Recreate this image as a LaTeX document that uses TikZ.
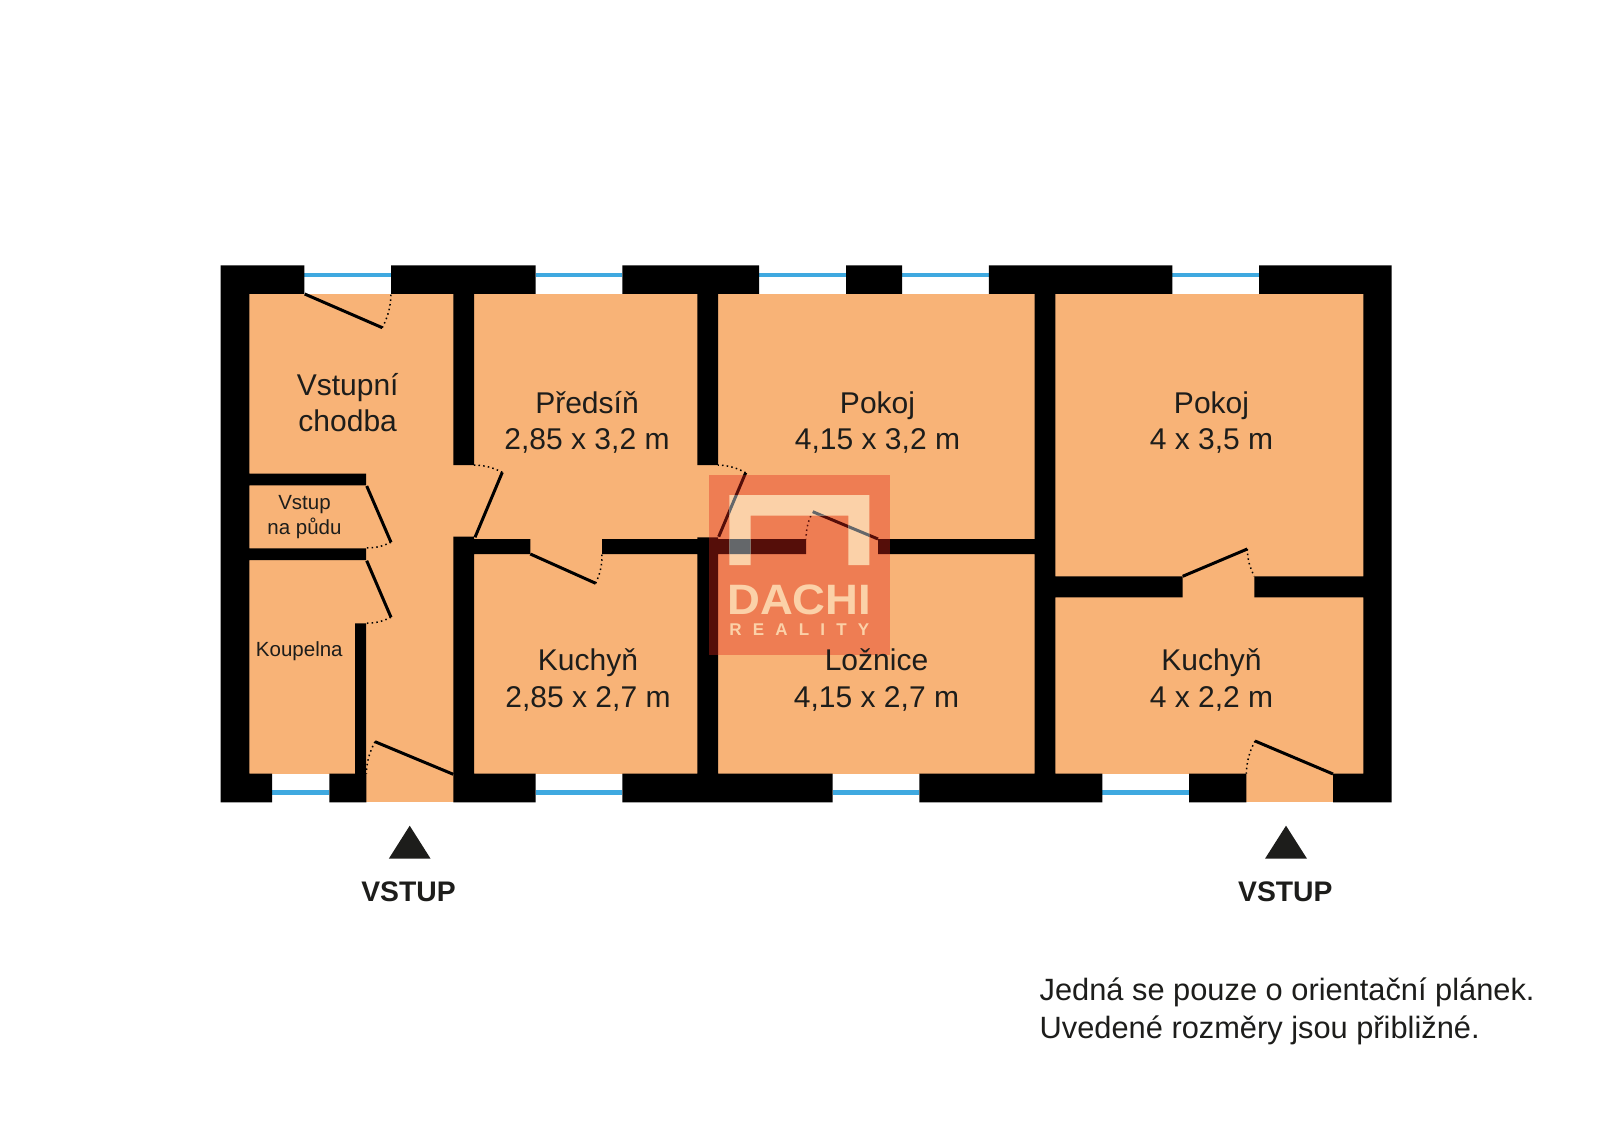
\documentclass[tikz,border=0pt]{standalone}
\usepackage{fontspec}
\setmainfont{Liberation Sans}
\definecolor{floorc}{HTML}{F8B377}
\definecolor{winc}{HTML}{3FA9E0}
\definecolor{inkc}{HTML}{1D1D1B}
\definecolor{stampc}{RGB}{224,39,26}
\definecolor{logoc}{RGB}{251,209,168}
\definecolor{logodark}{RGB}{100,103,106}
\tikzset{
  wall/.style={fill=black},
  window/.style={draw=winc,line width=4.4pt},
  leaf/.style={draw=black,line width=3pt},
  swing/.style={draw=black,line width=1.5pt,dash pattern=on 1.5pt off 3.2pt},
  room/.style={font=\fontsize{30}{36}\selectfont,text=inkc,anchor=base,inner sep=0pt},
  smalllabel/.style={font=\fontsize{20.5}{25}\selectfont,text=inkc,anchor=base,inner sep=0pt},
  entry/.style={font=\bfseries\fontsize{28.3}{32}\selectfont,text=inkc,anchor=base,inner sep=0pt},
  note/.style={font=\fontsize{30.8}{36}\selectfont,text=inkc,anchor=base west,inner sep=0pt},
}
% hinge, tip, jamb, bend side
\newcommand{\doorleaf}[4]{%
  \draw[leaf] #1 -- #2;
  \draw[swing] #2 to[bend #4=12] #3;
}
\newcommand{\wallshapes}{%
  % outer walls
  (220.7,265.3) rectangle (304.4,294)
  (391,265.3) rectangle (535.7,294)
  (622.4,265.3) rectangle (759,294)
  (846,265.3) rectangle (902,294)
  (988.8,265.3) rectangle (1172.4,294)
  (1259,265.3) rectangle (1391.7,294)
  (220.7,265.3) rectangle (249.3,802.3)
  (1363.3,265.3) rectangle (1391.7,802.3)
  (220.7,773.7) rectangle (272,802.3)
  (329.3,773.7) rectangle (366.3,802.3)
  (453.3,773.7) rectangle (535.7,802.3)
  (622.4,773.7) rectangle (832.7,802.3)
  (919.4,773.7) rectangle (1102.3,802.3)
  (1189,773.7) rectangle (1246.3,802.3)
  (1333,773.7) rectangle (1391.7,802.3)
  % inner walls
  (453.3,294) rectangle (474,465)
  (453.3,536.7) rectangle (474,773.7)
  (474,539) rectangle (530.3,554)
  (602,539) rectangle (806,554)
  (878,539) rectangle (1035,554)
  (697.3,294) rectangle (718,465)
  (697.3,537.3) rectangle (718,773.7)
  (1034.7,294) rectangle (1055.3,773.7)
  (1055,576.3) rectangle (1182.7,597.3)
  (1254.3,576.3) rectangle (1363.3,597.3)
  (249,473.7) rectangle (366,485.3)
  (249,548.3) rectangle (366,560)
  (355,623.3) rectangle (366,773.7)
}
\newcommand{\logoshapes}{%
  (729.3,495) -- (869.3,495) -- (869.3,565) -- (848.3,565) -- (848.3,515.7)
  -- (750.7,515.7) -- (750.7,565) -- (729.3,565) -- cycle
}
\begin{document}
\begin{tikzpicture}[x=1pt,y=-1pt]
\useasboundingbox (0,0) rectangle (1600,1131);
\fill[white] (0,0) rectangle (1600,1131);
% floors
\fill[floorc] (249,294) rectangle (1363.5,774);
\fill[floorc] (366,773) rectangle (453.5,802.3);
\fill[floorc] (1246,773) rectangle (1333.2,802.3);
% windows
\draw[window] (304,275) -- (391,275);
\draw[window] (535.7,275) -- (622.4,275);
\draw[window] (759,275) -- (846,275);
\draw[window] (902,275) -- (988.8,275);
\draw[window] (1172.4,275) -- (1259,275);
\draw[window] (272,792.3) -- (329.3,792.3);
\draw[window] (535.7,792.3) -- (622.4,792.3);
\draw[window] (832.7,792.3) -- (919.4,792.3);
\draw[window] (1102.3,792.3) -- (1189,792.3);
% walls
\fill[wall] \wallshapes;
% doors
\doorleaf{(304.7,294)}{(382.3,327.7)}{(391,294)}{right}
\doorleaf{(475,537.3)}{(502.3,472.3)}{(474,465)}{right}
\doorleaf{(366.7,486)}{(391,542.3)}{(366,548)}{left}
\doorleaf{(366.7,560.7)}{(391,617.3)}{(366,623.3)}{left}
\doorleaf{(453.3,774.3)}{(375,741.7)}{(366.3,773.7)}{right}
\doorleaf{(530.3,554)}{(595.7,583.3)}{(602,554)}{right}
\doorleaf{(718.7,536.7)}{(745.7,472.7)}{(718,465)}{right}
\doorleaf{(878,539)}{(812.7,511.7)}{(806,539)}{right}
\doorleaf{(1182.7,576.3)}{(1247.3,549)}{(1254.3,576.3)}{right}
\doorleaf{(1333,774)}{(1255,741)}{(1246.3,773.7)}{right}
% watermark
\fill[stampc,fill opacity=0.38] (709,475) rectangle (890,654.7);
\fill[logoc] \logoshapes;
\begin{scope}
  \clip \logoshapes;
  \fill[logodark] \wallshapes;
  \draw[leaf,draw=logodark] (718.7,536.7) -- (745.7,472.7);
  \draw[leaf,draw=logodark] (878,539) -- (812.7,511.7);
\end{scope}
\node[inner sep=0pt,anchor=base,text=logoc,font=\bfseries\fontsize{42.5}{44}\selectfont] (logoname) at (799.3,614) {\scalebox{1.07}[1]{DACHI}};
\node[inner sep=0pt,anchor=base,text=logoc,font=\bfseries\fontsize{17}{18}\selectfont] (logosub) at (799.3,635) {\hbox to 140pt{R\hfil E\hfil A\hfil L\hfil I\hfil T\hfil Y}};
% room labels
\node[room] (hall1) at (347.7,395) {Vstupní};
\node[room] (hall2) at (347.7,431) {chodba};
\node[smalllabel] (att1) at (304.5,509) {Vstup};
\node[smalllabel] (att2) at (304.5,534) {na půdu};
\node[smalllabel] (bath) at (299.3,656.7) {Koupelna};
\node[room] (pred1) at (587,413.3) {Předsíň};
\node[room] (pred2) at (587,449.3) {2,85 x 3,2 m};
\node[room] (pok1) at (877.5,413.3) {Pokoj};
\node[room] (pok2) at (877.5,449.3) {4,15 x 3,2 m};
\node[room] (pokr1) at (1211.5,413.3) {Pokoj};
\node[room] (pokr2) at (1211.5,449.3) {4 x 3,5 m};
\node[room] (kuch1) at (588,670) {Kuchyň};
\node[room] (kuch2) at (588,707) {2,85 x 2,7 m};
\node[room] (loz1) at (876.5,670) {Ložnice};
\node[room] (loz2) at (876.5,707) {4,15 x 2,7 m};
\node[room] (kuchr1) at (1211.5,670) {Kuchyň};
\node[room] (kuchr2) at (1211.5,707) {4 x 2,2 m};
% entries
\fill[inkc] (409.7,825.7) -- (430.6,858.7) -- (388.8,858.7) -- cycle;
\fill[inkc] (1286,825.7) -- (1307,858.7) -- (1265,858.7) -- cycle;
\node[entry] (in1) at (408.5,901.7) {VSTUP};
\node[entry] (in2) at (1285.3,901.7) {VSTUP};
% notes
\node[note] (n1) at (1039.5,1000.7) {Jedná se pouze o orientační plánek.};
\node[note] (n2) at (1039.5,1038.3) {Uvedené rozměry jsou přibližné.};
\end{tikzpicture}
\end{document}
